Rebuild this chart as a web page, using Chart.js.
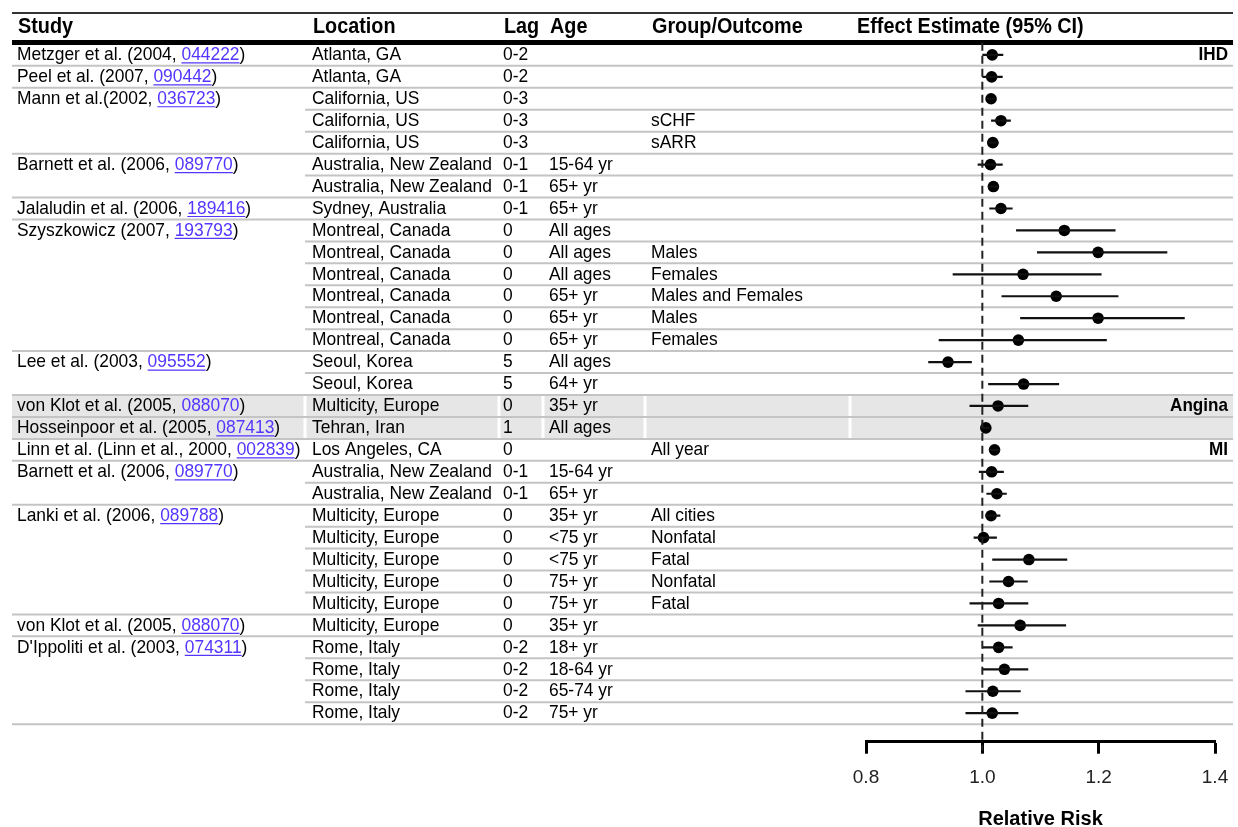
<!DOCTYPE html>
<html>
<head>
<meta charset="utf-8">
<script src="https://cdn.jsdelivr.net/npm/chart.js@4.4.1/dist/chart.umd.min.js"></script>
<style>
  html, body { margin: 0; padding: 0; background: #fff; }
  #wrap { width: 1238px; height: 827px; position: relative; }
</style>
</head>
<body>
<div id="wrap"><canvas id="forest"></canvas></div>
<script>
// rows of the table, top to bottom
const studies = ['Metzger et al. (2004, ', 'Peel et al. (2007, ', 'Mann et al.(2002, ', '', '',
  'Barnett et al. (2006, ', '', 'Jalaludin et al. (2006, ', 'Szyszkowicz (2007, ', '', '', '', '', '',
  'Lee et al. (2003, ', '', 'von Klot et al. (2005, ', 'Hosseinpoor et al. (2005, ',
  'Linn et al. (Linn et al., 2000, ', 'Barnett et al. (2006, ', '', 'Lanki et al. (2006, ', '', '', '', '',
  'von Klot et al. (2005, ', "D'Ippoliti et al. (2003, ", '', '', ''];
const refs = ['044222', '090442', '036723', '', '', '089770', '', '189416', '193793', '', '', '', '', '',
  '095552', '', '088070', '087413', '002839', '089770', '', '089788', '', '', '', '',
  '088070', '074311', '', '', ''];
const locations = ['Atlanta, GA', 'Atlanta, GA', 'California, US', 'California, US', 'California, US',
  'Australia, New Zealand', 'Australia, New Zealand', 'Sydney, Australia',
  'Montreal, Canada', 'Montreal, Canada', 'Montreal, Canada', 'Montreal, Canada', 'Montreal, Canada', 'Montreal, Canada',
  'Seoul, Korea', 'Seoul, Korea', 'Multicity, Europe', 'Tehran, Iran', 'Los Angeles, CA',
  'Australia, New Zealand', 'Australia, New Zealand',
  'Multicity, Europe', 'Multicity, Europe', 'Multicity, Europe', 'Multicity, Europe', 'Multicity, Europe',
  'Multicity, Europe', 'Rome, Italy', 'Rome, Italy', 'Rome, Italy', 'Rome, Italy'];
const lags = ['0-2', '0-2', '0-3', '0-3', '0-3', '0-1', '0-1', '0-1', '0', '0', '0', '0', '0', '0',
  '5', '5', '0', '1', '0', '0-1', '0-1', '0', '0', '0', '0', '0', '0', '0-2', '0-2', '0-2', '0-2'];
const ages = ['', '', '', '', '', '15-64 yr', '65+ yr', '65+ yr', 'All ages', 'All ages', 'All ages',
  '65+ yr', '65+ yr', '65+ yr', 'All ages', '64+ yr', '35+ yr', 'All ages', '', '15-64 yr', '65+ yr',
  '35+ yr', '<75 yr', '<75 yr', '75+ yr', '75+ yr', '35+ yr', '18+ yr', '18-64 yr', '65-74 yr', '75+ yr'];
const groups = ['', '', '', 'sCHF', 'sARR', '', '', '', '', 'Males', 'Females', 'Males and Females',
  'Males', 'Females', '', '', '', '', 'All year', '', '', 'All cities', 'Nonfatal', 'Fatal', 'Nonfatal',
  'Fatal', '', '', '', '', ''];

// effect estimates (relative risk) and 95% CI
const est = [1.017, 1.016, 1.015, 1.032, 1.018, 1.014, 1.019, 1.032, 1.141, 1.199, 1.070, 1.127, 1.199,
  1.062, 0.941, 1.071, 1.027, 1.006, 1.021, 1.016, 1.025, 1.015, 1.002, 1.080, 1.045, 1.028, 1.065,
  1.028, 1.038, 1.018, 1.017];
const lo = [1.000, 1.000, 1.008, 1.015, 1.008, 0.992, 1.010, 1.012, 1.058, 1.094, 0.949, 1.033, 1.065,
  0.925, 0.907, 1.010, 0.978, 1.000, 1.012, 0.994, 1.007, 1.005, 0.985, 1.017, 1.012, 0.978, 0.992,
  1.000, 1.000, 0.971, 0.971];
const hi = [1.036, 1.035, 1.022, 1.049, 1.028, 1.035, 1.028, 1.052, 1.229, 1.318, 1.205, 1.234, 1.348,
  1.214, 0.982, 1.132, 1.079, 1.012, 1.030, 1.037, 1.042, 1.031, 1.025, 1.146, 1.078, 1.079, 1.144,
  1.052, 1.079, 1.066, 1.062];

const outcomeRows = [1, 17, 19];
const outcomeNames = ['IHD', 'Angina', 'MI'];
const shadedRows = [17, 18];
const headers = ['Study', 'Location', 'Lag', 'Age', 'Group/Outcome', 'Effect Estimate (95% CI)'];
const xTicks = [0.8, 1.0, 1.2, 1.4];

const FONT = "'Liberation Sans', Arial, sans-serif";
const colX = [17, 312, 503, 549, 651, 856];
const gapX = [305, 499, 543, 645, 850];
const L = 12, R = 1233;

function txt(ctx, s, x, y, font, sx, color, align) {
  ctx.save();
  ctx.font = font;
  ctx.fillStyle = color;
  ctx.textBaseline = 'middle';
  ctx.textAlign = align || 'left';
  ctx.translate(x, y);
  ctx.scale(sx, 1);
  ctx.fillText(s, 0, 0);
  const w = ctx.measureText(s).width * sx;
  ctx.restore();
  return w;
}

function hline(ctx, x1, x2, y, w, color) {
  ctx.save();
  ctx.strokeStyle = color;
  ctx.lineWidth = w;
  ctx.beginPath();
  ctx.moveTo(x1, y);
  ctx.lineTo(x2, y);
  ctx.stroke();
  ctx.restore();
}

const tablePlugin = {
  id: 'table',
  beforeDatasetsDraw(chart) {
    const ctx = chart.ctx;
    const ys = chart.scales.y;
    const py = v => ys.getPixelForValue(v);
    const body = '19px ' + FONT;

    // shaded rows
    shadedRows.forEach(r => {
      const y1 = py(r - 0.5), y2 = py(r + 0.5);
      ctx.fillStyle = '#e6e6e6';
      ctx.fillRect(L, y1, R - L, y2 - y1);
      ctx.fillStyle = '#fff';
      gapX.forEach(g => ctx.fillRect(g - 1.5, y1, 3, y2 - y1));
    });

    // top rule, header, header rule
    hline(ctx, L, R, py(-0.91), 2, '#333');
    headers.forEach((h, i) => txt(ctx, h, colX[i] + 1, py(-0.27), 'bold 22px ' + FONT, 0.9, '#000'));
    hline(ctx, L, R, py(0.43), 5, '#000');

    // row separators
    for (let i = 0; i < est.length; i++) {
      const r = i + 1;
      const newStudy = i === est.length - 1 || studies[i + 1] !== '';
      hline(ctx, newStudy ? L : 305, R, py(r + 0.5), 2, '#c4c4c4');
    }

    // cell texts
    for (let i = 0; i < est.length; i++) {
      const y = py(i + 1);
      if (studies[i]) {
        let x = colX[0];
        x += txt(ctx, studies[i], x, y, body, 0.916, '#000');
        const w = txt(ctx, refs[i], x, y, body, 0.916, '#5236ff');
        if (i !== 16) hline(ctx, x, x + w, y + 8, 1.2, '#5236ff');
        txt(ctx, ')', x + w, y, body, 0.916, '#000');
      }
      txt(ctx, locations[i], colX[1], y, body, 0.916, '#000');
      txt(ctx, lags[i], colX[2], y, body, 0.916, '#000');
      txt(ctx, ages[i], colX[3], y, body, 0.916, '#000');
      txt(ctx, groups[i], colX[4], y, body, 0.916, '#000');
    }

    outcomeRows.forEach((r, k) => txt(ctx, outcomeNames[k], 1228, py(r), 'bold 19px ' + FONT, 0.9, '#000', 'right'));
  }
};

const ciSets = est.map((v, i) => ({
  data: [{ x: lo[i], y: i + 1 }, { x: hi[i], y: i + 1 }],
  showLine: true,
  borderColor: '#111',
  borderWidth: 2.2,
  pointRadius: 0
}));

new Chart(document.getElementById('forest'), {
  type: 'scatter',
  data: {
    datasets: [
      {
        data: [{ x: 1, y: 0.45 }, { x: 1, y: 32.7 }],
        showLine: true,
        borderColor: '#222',
        borderWidth: 2,
        borderDash: [8, 5],
        pointRadius: 0,
        clip: false
      },
      ...ciSets,
      {
        data: est.map((v, i) => ({ x: v, y: i + 1 })),
        pointRadius: 5.8,
        pointBackgroundColor: '#000',
        pointBorderColor: '#000',
        pointBorderWidth: 0
      }
    ]
  },
  options: {
    responsive: true,
    maintainAspectRatio: false,
    animation: false,
    layout: { padding: { left: 866, right: 23, top: 11, bottom: 0 } },
    plugins: { legend: { display: false }, tooltip: { enabled: false } },
    scales: {
      x: {
        type: 'linear',
        min: 0.8,
        max: 1.4,
        afterBuildTicks: s => { s.ticks = xTicks.map(v => ({ value: v })); },
        afterFit: s => {
          s.height = 85.3;
          s.paddingLeft = 0;
          s.paddingRight = 0;
        },
        ticks: {
          callback: v => v.toFixed(1),
          font: { family: FONT, size: 19 },
          color: '#222',
          padding: 13
        },
        grid: {
          drawOnChartArea: false,
          drawTicks: true,
          tickLength: 12,
          tickWidth: 3,
          tickColor: '#000'
        },
        border: { display: true, width: 3, color: '#000' },
        title: {
          display: true,
          text: 'Relative Risk',
          font: { family: FONT, size: 20, weight: 'bold', lineHeight: 0.8 },
          color: '#000',
          padding: { top: 0, bottom: 0 }
        }
      },
      y: {
        type: 'linear',
        reverse: true,
        min: -1,
        max: 32.3,
        display: false
      }
    }
  },
  plugins: [tablePlugin]
});
</script>
</body>
</html>
